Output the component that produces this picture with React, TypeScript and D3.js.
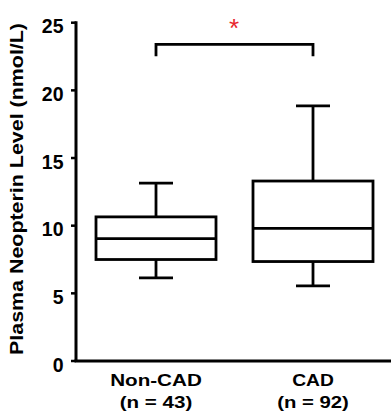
import React, { useEffect, useRef } from 'react';
import * as d3 from 'd3';

// box plot values (nmol/L)
const groups = ['Non-CAD', 'CAD'];
const groupNs = ['(n = 43)', '(n = 92)'];
const whiskerLow = [6.15, 5.55];
const quartile1 = [7.5, 7.35];
const medians = [9.05, 9.8];
const quartile3 = [10.65, 13.3];
const whiskerHigh = [13.15, 18.85];
const yTicks = [0, 5, 10, 15, 20, 25];
const bracketLevel = 23.4;

const W = 392;
const H = 419;
const FONT = '"Liberation Sans", Arial, Helvetica, sans-serif';

export default function App() {
  const ref = useRef<SVGSVGElement>(null);

  useEffect(() => {
    if (!ref.current) return;
    const svg = d3.select(ref.current);
    svg.selectAll('*').remove();

    const left = 76;
    const y = d3.scaleLinear().domain([0, 25]).range([361, 22.7]);
    const x = d3.scalePoint<string>().domain(groups).range([156, 313]);
    const cx = (g: string) => x(g) as number;
    const boxW = 120;
    const capW = 34;
    const sw = 2.8;

    // axes
    svg.append('line')
      .attr('x1', left).attr('x2', left)
      .attr('y1', y(25) - 1.5).attr('y2', y(0))
      .attr('stroke', '#000').attr('stroke-width', 3);
    svg.append('line')
      .attr('x1', left - 1.5).attr('x2', 391)
      .attr('y1', y(0)).attr('y2', y(0))
      .attr('stroke', '#000').attr('stroke-width', 3);

    yTicks.forEach(t => {
      svg.append('line')
        .attr('x1', left - 5).attr('x2', left)
        .attr('y1', y(t)).attr('y2', y(t))
        .attr('stroke', '#000').attr('stroke-width', 2.5);
      svg.append('text')
        .attr('x', 63.5)
        .attr('y', y(t) + 10.5)
        .attr('text-anchor', 'end')
        .attr('font-family', FONT)
        .attr('font-weight', 'bold')
        .attr('font-size', 19.5)
        .text(t);
    });

    // y axis title
    svg.append('text')
      .attr('transform', 'translate(22.5,189) rotate(-90)')
      .attr('text-anchor', 'middle')
      .attr('font-family', FONT)
      .attr('font-weight', 'bold')
      .attr('font-size', 18)
      .attr('textLength', 332)
      .attr('lengthAdjust', 'spacingAndGlyphs')
      .text('Plasma Neopterin Level (nmol/L)');

    const labelLen = [[91.7, 72.6], [41.7, 71.7]];

    groups.forEach((g, i) => {
      const c = cx(g);
      const gEl = svg.append('g')
        .attr('stroke', '#000')
        .attr('stroke-width', sw)
        .attr('fill', 'none');
      // whiskers
      gEl.append('line').attr('x1', c).attr('x2', c).attr('y1', y(quartile3[i])).attr('y2', y(whiskerHigh[i]));
      gEl.append('line').attr('x1', c).attr('x2', c).attr('y1', y(quartile1[i])).attr('y2', y(whiskerLow[i]));
      gEl.append('line').attr('x1', c - capW / 2).attr('x2', c + capW / 2).attr('y1', y(whiskerHigh[i])).attr('y2', y(whiskerHigh[i]));
      gEl.append('line').attr('x1', c - capW / 2).attr('x2', c + capW / 2).attr('y1', y(whiskerLow[i])).attr('y2', y(whiskerLow[i]));
      // box
      gEl.append('rect')
        .attr('x', c - boxW / 2)
        .attr('y', y(quartile3[i]))
        .attr('width', boxW)
        .attr('height', y(quartile1[i]) - y(quartile3[i]))
        .attr('fill', '#fff');
      gEl.append('line').attr('x1', c - boxW / 2).attr('x2', c + boxW / 2).attr('y1', y(medians[i])).attr('y2', y(medians[i]));

      // category labels
      svg.append('text')
        .attr('x', c).attr('y', 385.5)
        .attr('text-anchor', 'middle')
        .attr('font-family', FONT).attr('font-weight', 'bold').attr('font-size', 17)
        .attr('textLength', labelLen[i][0]).attr('lengthAdjust', 'spacingAndGlyphs')
        .text(g);
      svg.append('text')
        .attr('x', c).attr('y', 407.5)
        .attr('text-anchor', 'middle')
        .attr('font-family', FONT).attr('font-weight', 'bold').attr('font-size', 17)
        .attr('textLength', labelLen[i][1]).attr('lengthAdjust', 'spacingAndGlyphs')
        .text(groupNs[i]);
    });

    // significance bracket
    const c0 = cx(groups[0]);
    const c1 = cx(groups[1]);
    svg.append('path')
      .attr('d', `M${c0},${y(bracketLevel) + 12}V${y(bracketLevel)}H${c1}V${y(bracketLevel) + 12}`)
      .attr('fill', 'none').attr('stroke', '#000').attr('stroke-width', sw);
    svg.append('text')
      .attr('x', 234)
      .attr('y', 37)
      .attr('text-anchor', 'middle')
      .attr('font-family', FONT)
      .attr('font-size', 26)
      .attr('fill', '#e8262d')
      .text('*');
  }, []);

  return (
    <svg ref={ref} width={W} height={H} style={{ position: 'absolute', left: 0, top: 0, background: '#fff' }} />
  );
}
